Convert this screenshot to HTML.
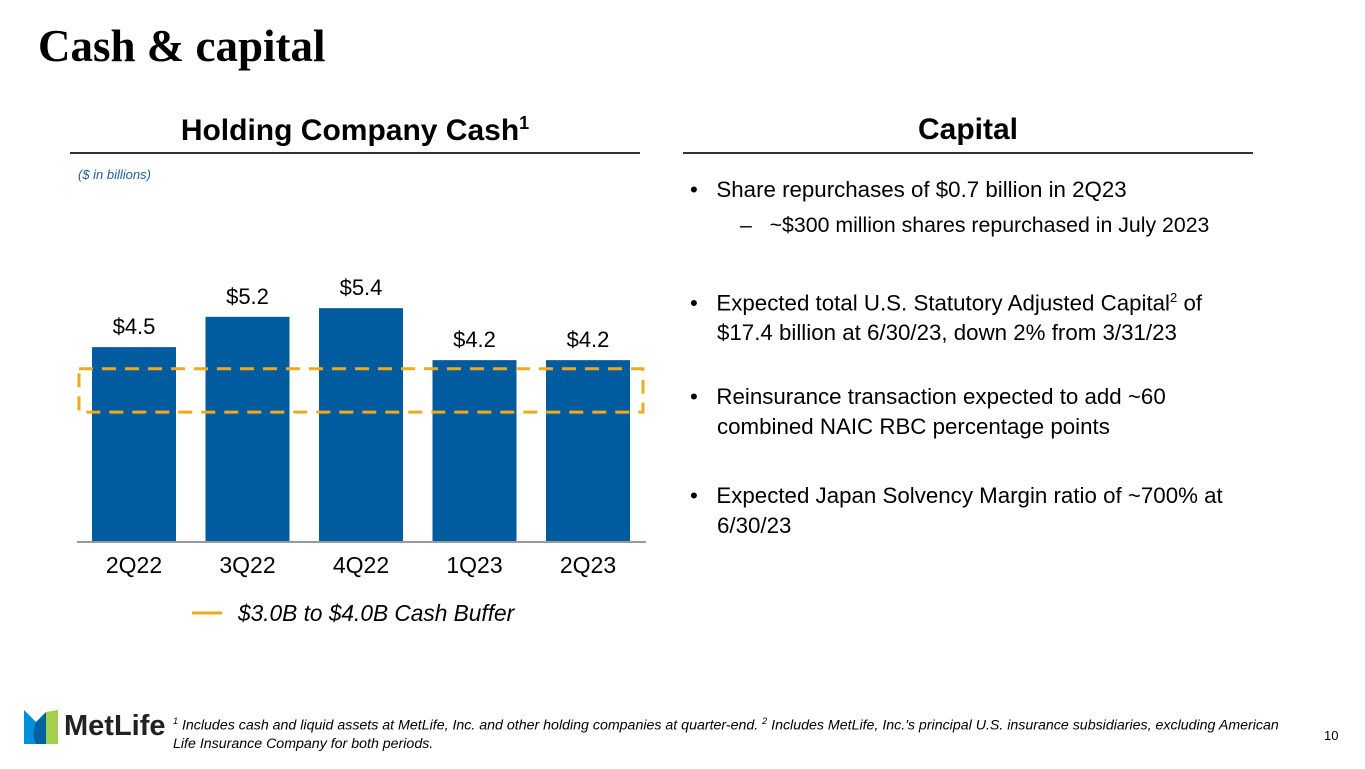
<!DOCTYPE html>
<html><head><meta charset="utf-8"><style>
body{margin:0;width:1365px;height:769px;background:#fff;position:relative;overflow:hidden;font-family:"Liberation Sans",sans-serif;color:#000}
.a{position:absolute;white-space:nowrap}
.b{font-size:22.3px;line-height:30px}
</style></head><body>
<div class="a" style="left:38px;top:20px;font-family:'Liberation Serif',serif;font-weight:bold;font-size:45px">Cash &amp; capital</div>
<div class="a" style="left:70px;width:570px;top:113px;text-align:center;font-weight:bold;font-size:30px">Holding Company Cash<sup style="font-size:18px">1</sup></div>
<div class="a" style="left:70px;top:152px;width:570px;height:2px;background:#333"></div>
<div class="a" style="left:683px;width:570px;top:113px;text-align:center;font-weight:bold;font-size:30px">Capital</div>
<div class="a" style="left:683px;top:152px;width:570px;height:2px;background:#333"></div>
<div class="a" style="left:78px;top:167px;font-size:13px;font-style:italic;color:#1f5c99">($ in billions)</div>
<div>
<div class="a b" style="left:690px;top:175px">•&nbsp;&nbsp;&nbsp;Share repurchases of $0.7 billion in 2Q23</div>
<div class="a" style="left:740px;top:213px;font-size:21.3px">–&nbsp;&nbsp;&nbsp;~$300 million shares repurchased in July 2023</div>
<div class="a b" style="left:690px;top:283px">•&nbsp;&nbsp;&nbsp;Expected total U.S. Statutory Adjusted Capital<sup style="font-size:13px">2</sup> of<br><span style="padding-left:27px">$17.4 billion at 6/30/23, down 2% from 3/31/23</span></div>
<div class="a b" style="left:690px;top:382px">•&nbsp;&nbsp;&nbsp;Reinsurance transaction expected to add ~60<br><span style="padding-left:27px">combined NAIC RBC percentage points</span></div>
<div class="a b" style="left:690px;top:481px">•&nbsp;&nbsp;&nbsp;Expected Japan Solvency Margin ratio of ~700% at<br><span style="padding-left:27px">6/30/23</span></div>
</div>
<svg class="a" style="left:0;top:0" width="1365" height="769">
<g id="bars"></g>
<line x1="77" y1="542" x2="646" y2="542" stroke="#999" stroke-width="2"/>
<rect id="buf" x="79" fill="none" width="564" stroke="#f2a91c" stroke-width="3" stroke-dasharray="14,9"/>
<line x1="192" y1="613" x2="222" y2="613" stroke="#f2a91c" stroke-width="3"/>
<text x="238" y="621" font-size="22.7" font-style="italic" font-family="Liberation Sans">$3.0B to $4.0B Cash Buffer</text>
</svg>
<svg class="a" style="left:24px;top:710px" width="34" height="34">
<path d="M0 0 L12 12 L12 34 L0 34Z" fill="#0090da"/><path d="M12 12 L22 2 L22 34 L12 34Z" fill="#0061a0"/><path d="M22 2 L34 0 L34 34 L22 34Z" fill="#a4ce4e"/>
<path d="M12 12 Q17 24 12 34 Q7 24 12 12Z" fill="#0061a0"/>
</svg>
<div class="a" style="left:64px;top:710px;font-weight:bold;font-size:29px;color:#222">MetLife</div>
<div class="a" style="left:173px;top:712px;font-size:14.2px;font-style:italic;line-height:18px"><sup style="font-size:9px">1</sup> Includes cash and liquid assets at MetLife, Inc. and other holding companies at quarter-end. <sup style="font-size:9px">2</sup> Includes MetLife, Inc.'s principal U.S. insurance subsidiaries, excluding American<br>Life Insurance Company for both periods.</div>
<div class="a" style="left:1324px;top:728px;font-size:13px">10</div>
<script>
const categories=["2Q22","3Q22","4Q22","1Q23","2Q23"];
const cashValues=[4.5,5.2,5.4,4.2,4.2];
const valueLabels=["$4.5","$5.2","$5.4","$4.2","$4.2"];
const bufferRange=[3.0,4.0];
const base=542,k=43.3,x0=92,step=113.5,bw=84;
const y=v=>base-v*k;
const g=document.getElementById('bars');
const ns='http://www.w3.org/2000/svg';
categories.forEach((c,i)=>{
 const x=x0+i*step;
 const r=document.createElementNS(ns,'rect');
 r.setAttribute('x',x);r.setAttribute('y',y(cashValues[i]));r.setAttribute('width',bw);r.setAttribute('height',base-y(cashValues[i]));r.setAttribute('fill','#005b9f');
 
 
 g.appendChild(r);
 const t=document.createElementNS(ns,'text');
 t.setAttribute('x',x+bw/2);t.setAttribute('y',y(cashValues[i])-13);t.setAttribute('text-anchor','middle');t.setAttribute('font-size','22');t.setAttribute('font-family','Liberation Sans');
 t.textContent=valueLabels[i];
 
 
 g.appendChild(t);
 const l=document.createElementNS(ns,'text');
 l.setAttribute('x',x+bw/2);l.setAttribute('y',573);l.setAttribute('text-anchor','middle');l.setAttribute('font-size','23');l.setAttribute('font-family','Liberation Sans');
 l.textContent=c;
 
 
 g.appendChild(l);
});
const b=document.getElementById('buf');
b.setAttribute('y',y(bufferRange[1]));b.setAttribute('height',y(bufferRange[0])-y(bufferRange[1]));
</script>
</body></html>
